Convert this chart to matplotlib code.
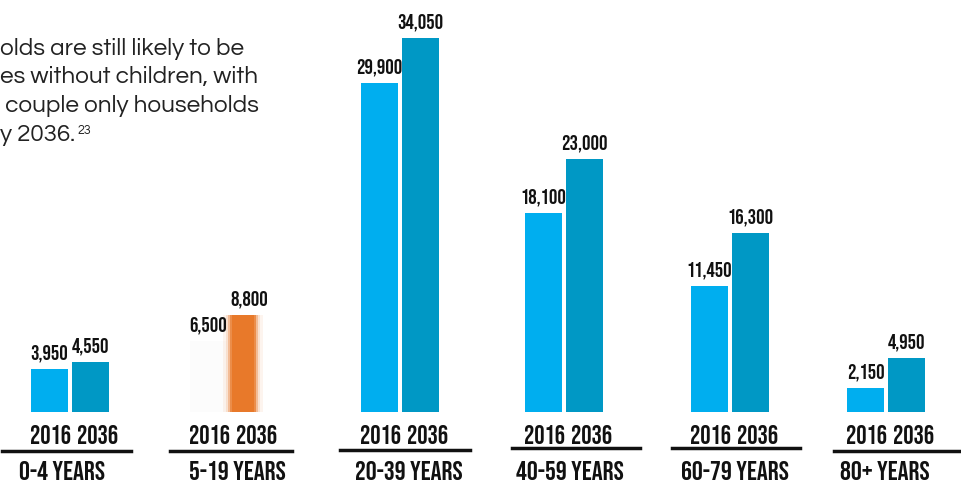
import matplotlib
matplotlib.use("Agg")
import matplotlib.pyplot as plt
from matplotlib.lines import Line2D
from matplotlib import font_manager as fm

# data
groups = ["0-4 YEARS", "5-19 YEARS", "20-39 YEARS", "40-59 YEARS", "60-79 YEARS", "80+ YEARS"]
years = ["2016", "2036"]
values_2016 = [3950, 6500, 29900, 18100, 11450, 2150]
values_2036 = [4550, 8800, 34050, 23000, 16300, 4950]
text_lines = ["olds are still likely to be",
              "es without children, with",
              " couple only households",
              "y 2036."]
footnote = "23"

installed = set(f.name for f in fm.fontManager.ttflist)

def pick(*names):
    for n in names:
        if n in installed:
            return n
    return "DejaVu Sans"

label_font = pick("Bebas Neue", "Oswald", "Barlow Condensed", "Asap Condensed")
para_font = pick("Questrial", "Didact Gothic", "URW Gothic", "Poppins", "DejaVu Sans")

# layout (pixels)
W, H = 962, 484
base_y = 412
centers = [70, 229, 400, 564, 730, 886]
label_x = [62, 237, 409, 570, 735, 885]
line_spans = [(2, 131), (170, 292), (340, 470), (512, 640), (672, 800), (834, 962)]
line_y = [451, 451, 450, 448, 448, 451]
bar_w = 37
gap = 4

c16 = "#00AEEF"
c36 = "#0098C5"
orange = "#E8792A"

fig = plt.figure(figsize=(W / 100, H / 100), dpi=100)
ax = fig.add_axes([0, (H - base_y) / H, 1, base_y / H])
ax.set_xlim(0, W)
ax.set_ylim(0, base_y / 0.01099)
ax.axis("off")

def fy(ypix):
    return 1 - ypix / H

for i, g in enumerate(groups):
    x16 = centers[i] - gap / 2 - bar_w / 2
    x36 = centers[i] + gap / 2 + bar_w / 2
    if g == "5-19 YEARS":
        # washed-out group in the source: faint 2016 bar, blurry orange 2036 bar
        ax.bar(x16, values_2016[i], width=bar_w, color="#fcfcfc", lw=0)
        for w, a in [(40, 0.08), (34, 0.15), (30, 0.35), (26, 0.7), (22, 1.0)]:
            ax.bar(x36 - 6, values_2036[i], width=w, color=orange, alpha=a, lw=0)
    else:
        ax.bar(x16, values_2016[i], width=bar_w, color=c16, lw=0)
        ax.bar(x36, values_2036[i], width=bar_w, color=c36, lw=0)
    ax.annotate(f"{values_2016[i]:,}", (x16, values_2016[i]), xytext=(0, 5),
                textcoords="offset points", ha="center", va="bottom",
                fontsize=15, fontweight="bold", family=label_font, color="#111111")
    ax.annotate(f"{values_2036[i]:,}", (x36, values_2036[i]), xytext=(0, 5),
                textcoords="offset points", ha="center", va="bottom",
                fontsize=15, fontweight="bold", family=label_font, color="#111111")
    fig.text((x16 + 1) / W, fy(435), years[0], ha="center", va="center",
             fontsize=18.5, fontweight="bold", family=label_font, color="#111111")
    fig.text((x36 + 7) / W, fy(435), years[1], ha="center", va="center",
             fontsize=18.5, fontweight="bold", family=label_font, color="#111111")
    x0, x1 = line_spans[i]
    fig.add_artist(Line2D([x0 / W, x1 / W], [fy(line_y[i]), fy(line_y[i])],
                          color="#111111", lw=2.5))
    fig.text(label_x[i] / W, fy(471), g, ha="center", va="center",
             fontsize=19.5, fontweight="bold", family=label_font, color="#111111")

# cropped paragraph at top left
para_y = [55, 83, 112, 141]
last = None
for t, y in zip(text_lines, para_y):
    last = fig.text(0, fy(y), t, ha="left", va="baseline", fontsize=17.5,
                    color="#222222", family=para_font)
ax.annotate(footnote, xy=(1, 1), xycoords=last, xytext=(1.5, 0),
            textcoords="offset points", ha="left", va="top", fontsize=9,
            color="#222222", family=para_font)

fig.savefig("out.png", dpi=100, facecolor="white")
